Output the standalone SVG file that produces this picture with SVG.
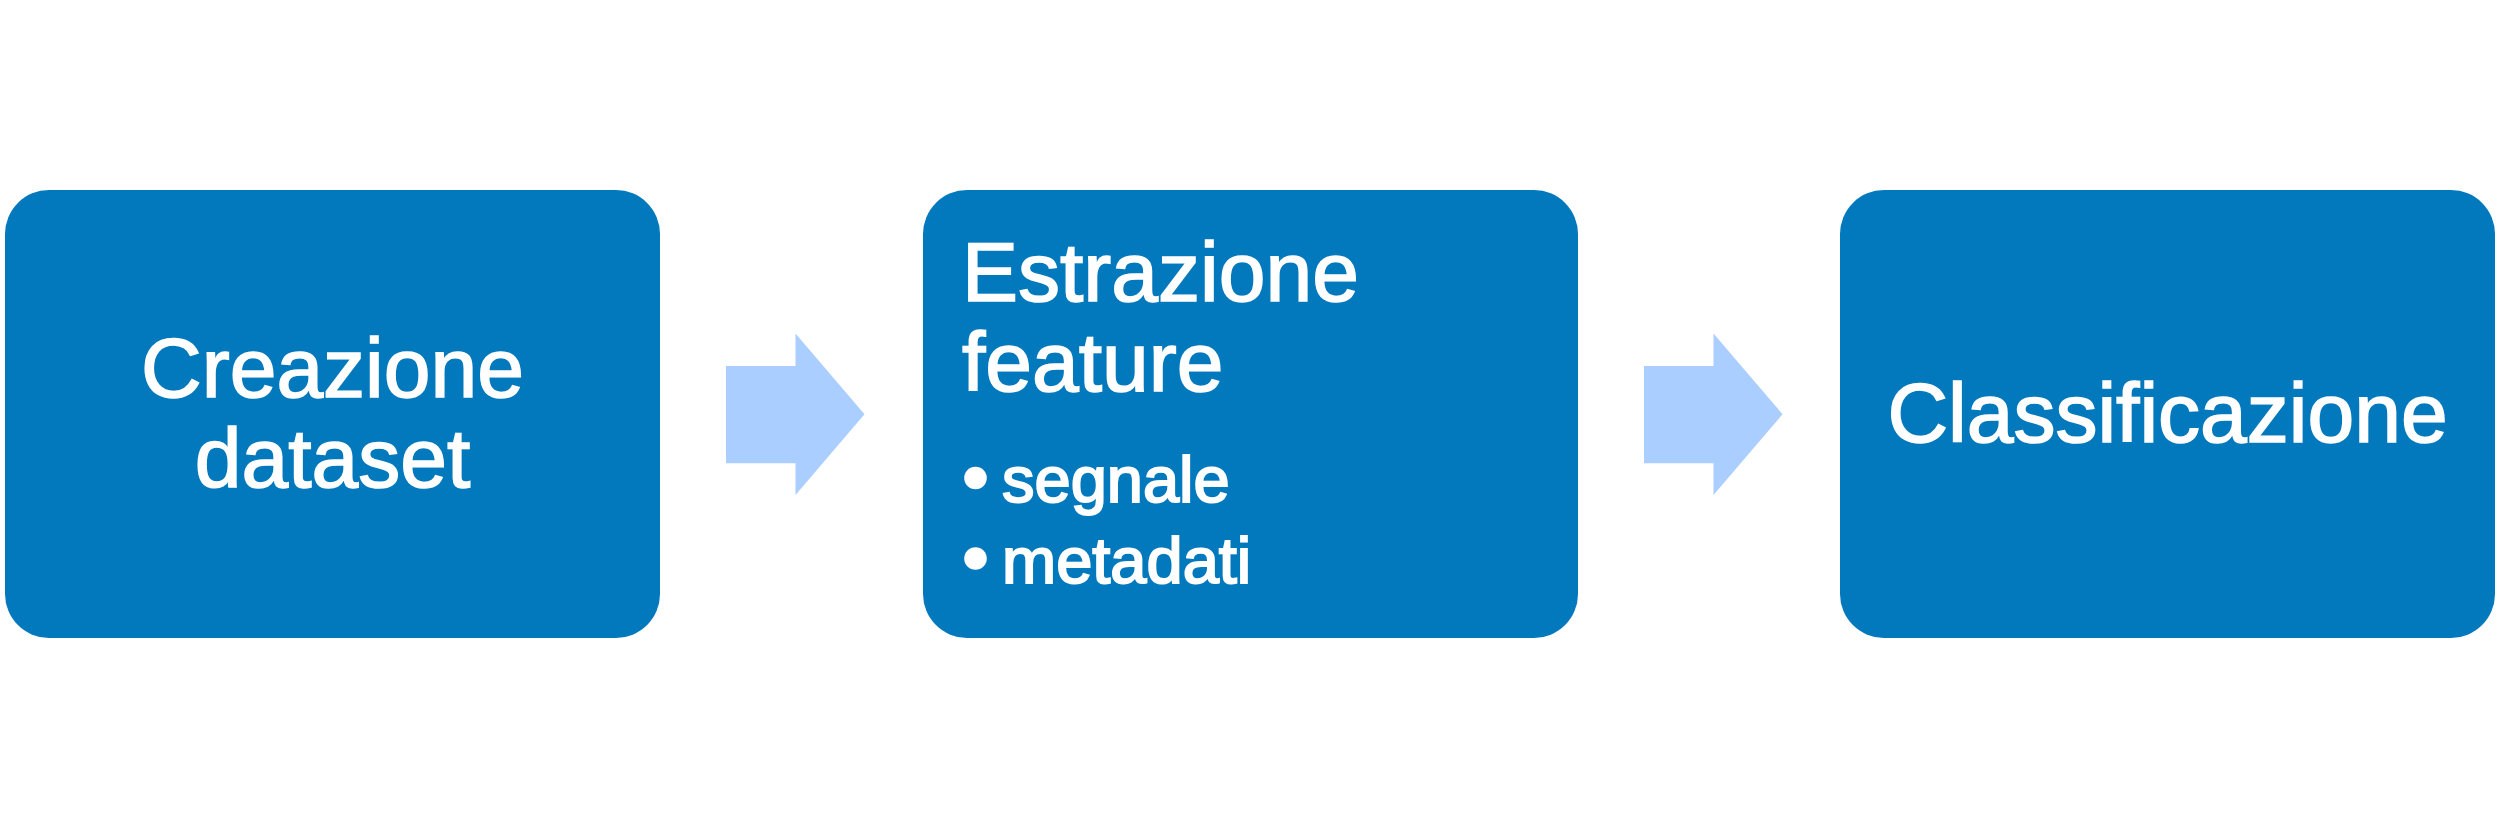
<svg xmlns="http://www.w3.org/2000/svg" width="2504" height="820" viewBox="0 0 2504 820">
<style>
.box{fill:#0279BD}
.arrow{fill:#AACEFF}
.t{font-family:"Liberation Sans",Arial,sans-serif;fill:#fff;font-size:84px;stroke:#fff;stroke-width:1.6px}
.b{font-family:"Liberation Sans",Arial,sans-serif;fill:#fff;font-size:65px;stroke:#fff;stroke-width:2px}
</style>
<rect width="2504" height="820" fill="#fff"/>
<g id="connectors">
<polygon class="arrow" points="726,366 795.5,366 795.5,333.5 864.5,414.3 795.5,495 795.5,463.3 726,463.3"/>
<polygon class="arrow" points="1644,366 1713.5,366 1713.5,333.5 1782.5,414.3 1713.5,495 1713.5,463.3 1644,463.3"/>
</g>
<g id="node-creazione">
<rect class="box" x="5" y="190" width="655" height="448" rx="44" ry="44"/>
<text class="t" x="332.5" y="397" text-anchor="middle">Creazione</text>
<text class="t" x="332.5" y="487" text-anchor="middle">dataset</text>
</g>
<g id="node-estrazione">
<rect class="box" x="923" y="190" width="655" height="448" rx="44" ry="44"/>
<text class="t" x="962" y="301">Estrazione</text>
<text class="t" x="962" y="391">feature</text>
<circle cx="975.5" cy="478" r="11.3" fill="#fff"/>
<text class="b" x="1002" y="501.5">segnale</text>
<circle cx="975.5" cy="558.5" r="11.3" fill="#fff"/>
<text class="b" x="1002" y="583">metadati</text>
</g>
<g id="node-classificazione">
<rect class="box" x="1840" y="190" width="655" height="448" rx="44" ry="44"/>
<text class="t" x="2167.5" y="442" text-anchor="middle">Classificazione</text>
</g>
</svg>
